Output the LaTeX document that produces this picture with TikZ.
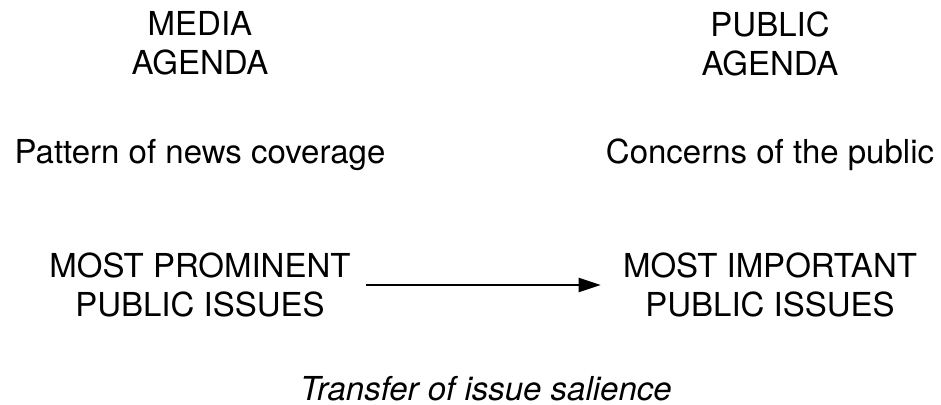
\documentclass[tikz,border=0pt]{standalone}
\usepackage{fontspec}
\setmainfont{TeX Gyre Heros}
\usetikzlibrary{arrows.meta}

\begin{document}
\begin{tikzpicture}[x=0.5pt,y=-0.5pt,
		txt/.style={align=center,inner sep=5.5pt,font=\fontsize{16.5}{19.5}\selectfont},
		flow/.style={line width=1pt,-{Triangle[length=11pt,width=7pt]},shorten <=2pt,shorten >=5.5pt}]
		\useasboundingbox (0,0) rectangle (941,405);
		
		% Media side
		\node[txt] (media) at (200,43.5) {MEDIA\\AGENDA};
		\node[txt] (pattern) at (200,155) {Pattern of news coverage};
		\node[txt] (prominent) at (200,285) {MOST PROMINENT\\PUBLIC ISSUES};
		
		% Public side
		\node[txt] (public) at (770,43.5) {PUBLIC\\AGENDA};
		\node[txt] (concerns) at (770,155) {Concerns of the public};
		\node[txt] (important) at (770,285) {MOST IMPORTANT\\PUBLIC ISSUES};
		
		% Transfer
		\draw[flow] (prominent) -- (important);
		\node[txt,font=\fontsize{16.5}{19.5}\selectfont\itshape] (transfer) at (486,389) {Transfer of issue salience};
	\end{tikzpicture}
\end{document}
